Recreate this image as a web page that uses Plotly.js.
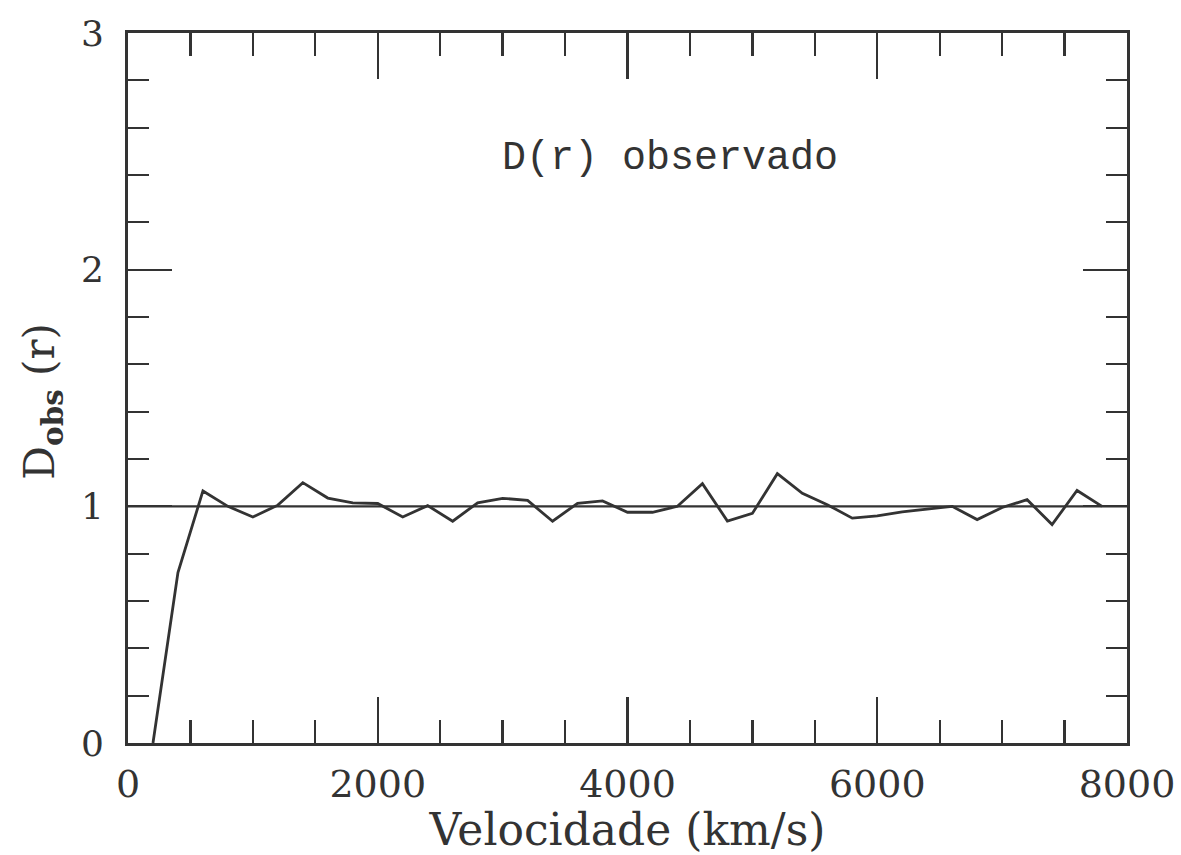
<!DOCTYPE html>
<html>
<head>
<meta charset="utf-8">
<script src="https://cdn.plot.ly/plotly-3.0.1.min.js"></script>
<style>
  html, body { margin: 0; padding: 0; background: #ffffff; }
  #chart { width: 1181px; height: 855px; }
</style>
</head>
<body>
<div id="chart"></div>
<script>
// Velocity (km/s) and observed D(r)
const velocity = [200, 400, 600, 800, 1000, 1200, 1400, 1600, 1800, 2000,
  2200, 2400, 2600, 2800, 3000, 3200, 3400, 3600, 3800, 4000,
  4200, 4400, 4600, 4800, 5000, 5200, 5400, 5600, 5800, 6000,
  6200, 6400, 6600, 6800, 7000, 7200, 7400, 7600, 7800];
const dObs = [0.0, 0.72, 1.065, 1.0, 0.955, 1.005, 1.10, 1.035, 1.015, 1.012,
  0.955, 1.003, 0.937, 1.015, 1.034, 1.025, 0.937, 1.013, 1.023, 0.975,
  0.975, 1.0, 1.096, 0.938, 0.97, 1.138, 1.055, 1.007, 0.95, 0.96,
  0.977, 0.99, 1.0, 0.944, 0.995, 1.028, 0.923, 1.067, 1.0];
// Reference line D = 1
const refX = [0, 8000];
const refY = [1, 1];

const xTickVals = [0, 2000, 4000, 6000, 8000];
const yTickVals = [0, 1, 2, 3];
const annotationText = 'D(r) observado';

const ink = '#333333';
const serif = 'DejaVu Serif, Liberation Serif, serif';

const traces = [
  { x: refX, y: refY, mode: 'lines', line: { color: ink, width: 2.3 }, hoverinfo: 'skip', showlegend: false },
  { x: velocity, y: dObs, mode: 'lines', line: { color: ink, width: 2.8 }, showlegend: false }
];

const layout = {
  width: 1181, height: 855,
  margin: { l: 128, r: 54, t: 33, b: 112 },
  paper_bgcolor: '#ffffff', plot_bgcolor: '#ffffff',
  showlegend: false,
  font: { family: serif, color: ink },
  xaxis: {
    range: [0, 8000], tickvals: xTickVals, ticktext: xTickVals.map(String),
    ticks: 'inside', ticklen: 46, tickwidth: 2.3, tickcolor: ink,
    minor: { dtick: 500, tick0: 0, ticks: 'inside', ticklen: 23, tickwidth: 2.3, tickcolor: ink, showgrid: false },
    showline: true, linewidth: 2.8, linecolor: ink, mirror: 'ticks',
    showgrid: false, zeroline: false,
    tickfont: { family: serif, size: 38, color: ink },
    ticklabelstandoff: 6,
    title: { text: 'Velocidade (km/s)', font: { family: serif, size: 44, color: ink }, standoff: 0 }
  },
  yaxis: {
    range: [0, 3], tickvals: yTickVals, ticktext: yTickVals.map(String),
    ticks: 'inside', ticklen: 44, tickwidth: 2.3, tickcolor: ink,
    minor: { dtick: 0.2, tick0: 0, ticks: 'inside', ticklen: 21, tickwidth: 2.3, tickcolor: ink, showgrid: false },
    showline: true, linewidth: 2.8, linecolor: ink, mirror: 'ticks',
    showgrid: false, zeroline: false,
    tickfont: { family: serif, size: 36, color: ink },
    ticklabelstandoff: 14,
    title: { text: 'D<sub><b>obs</b></sub> (r)&nbsp;&nbsp;', font: { family: serif, size: 42, color: ink }, standoff: 14 }
  },
  annotations: [{
    x: 2980, y: 2.47, xref: 'x', yref: 'y', xanchor: 'left', yanchor: 'middle',
    text: annotationText, showarrow: false,
    font: { family: 'Liberation Mono, DejaVu Sans Mono, monospace', size: 40, color: ink }
  }]
};

Plotly.newPlot('chart', traces, layout, { staticPlot: true, displayModeBar: false });
</script>
</body>
</html>
